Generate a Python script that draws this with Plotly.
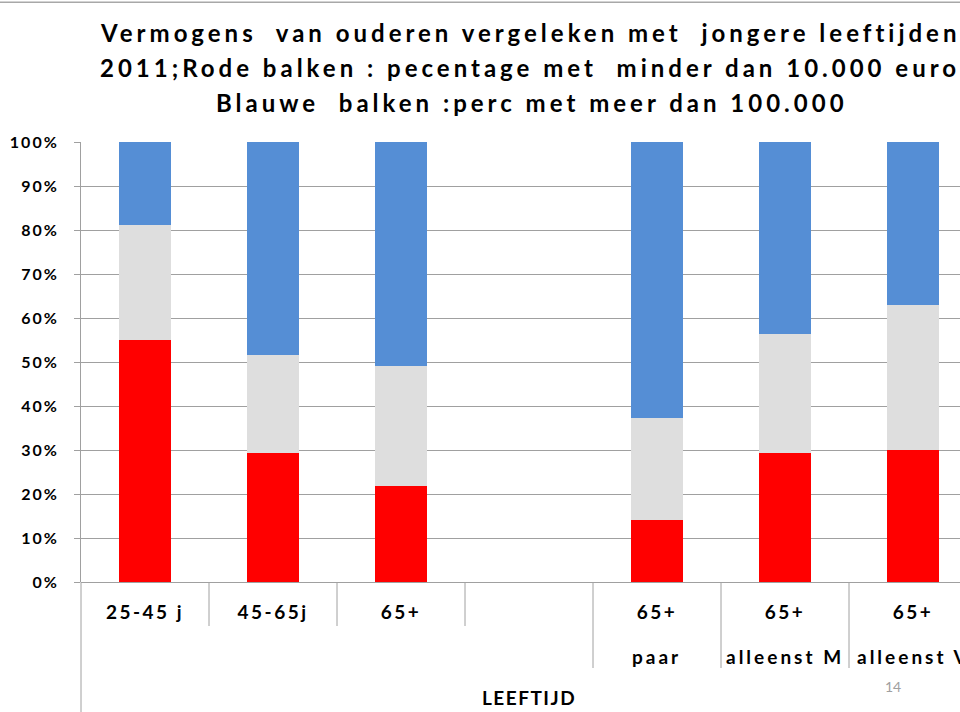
import plotly.graph_objects as go

# ---- data ----
categories = ["25-45 j", "45-65j", "65+", "", "65+", "65+", "65+"]
subcategories = ["", "", "", "", "paar", "alleenst M", "alleenst V"]
red_pct = [55.0, 29.3, 21.9, None, 14.1, 29.4, 29.9]      # < 10.000 euro
grey_pct = [26.1, 22.2, 27.2, None, 23.2, 27.0, 33.1]     # middle
blue_pct = [18.9, 48.5, 50.9, None, 62.7, 43.6, 37.0]     # > 100.000
y_ticks = [0, 10, 20, 30, 40, 50, 60, 70, 80, 90, 100]
title_lines = [
    "Vermogens  van ouderen vergeleken met  jongere leeftijden",
    "2011;Rode balken : pecentage met  minder dan 10.000 euro",
    "Blauwe  balken :perc met meer dan 100.000",
]
axis_group_label = "LEEFTIJD"
page_number = "14"

FONT = "Lato"
GRID = "#a0a0a0"
x_pos = list(range(len(categories)))

fig = go.Figure()
for vals, col in [(red_pct, "#FF0000"), (grey_pct, "#DEDEDE"), (blue_pct, "#558ED5")]:
    fig.add_trace(go.Bar(x=x_pos, y=vals, marker=dict(color=col, line=dict(width=0)),
                         width=0.41, showlegend=False, hoverinfo="skip"))

# plot geometry (pixels)
W, H = 960, 712
L, T, B = 81, 142, 130
plot_w = W - L
plot_h = H - T - B
cat_px = 128.0

fig.update_layout(
    width=W, height=H, barmode="stack",
    margin=dict(l=L, r=0, t=T, b=B, pad=0),
    paper_bgcolor="white", plot_bgcolor="white",
    font=dict(family=FONT, color="black"),
    xaxis=dict(range=[-0.5, -0.5 + plot_w / cat_px], tickmode="array", tickvals=x_pos,
               ticktext=categories, showgrid=False, zeroline=False, showline=False,
               ticks="", ticklabelstandoff=17, automargin=False,
               tickfont=dict(family=FONT, size=19, weight="bold", color="black")),
    yaxis=dict(range=[0, 100], tickmode="array", tickvals=y_ticks,
               ticktext=[f"{v}%" for v in y_ticks], showgrid=True, gridcolor=GRID, gridwidth=1,
               zeroline=True, zerolinecolor=GRID, zerolinewidth=1,
               showline=True, linecolor=GRID, linewidth=1, automargin=False,
               ticks="outside", ticklen=6, tickcolor=GRID, ticklabelstandoff=12,
               tickfont=dict(family=FONT, size=16, weight="bold", color="black")),
)

def py(px):
    return (H - B - px) / plot_h

def pxx(px):
    return (px - L) / plot_w

annotations = []
# title lines
title_starts = [98, 98, 214]
title_ys = [32, 68, 102]
for txt, x0, y0 in zip(title_lines, title_starts, title_ys):
    annotations.append(dict(text=txt, xref="paper", yref="paper", x=pxx(x0), y=py(y0),
                            xanchor="left", yanchor="middle", align="left", showarrow=False,
                            font=dict(family=FONT, size=24, weight="bold", color="black")))
n_title = len(annotations)
# second-row category labels
for xi, s in zip(x_pos, subcategories):
    if s:
        annotations.append(dict(text=s, xref="x", yref="paper", x=xi, y=py(656),
                                xanchor="center", yanchor="middle", showarrow=False,
                                font=dict(family=FONT, size=19, weight="bold", color="black")))
n_sub_end = len(annotations)
annotations.append(dict(text=axis_group_label, xref="x", yref="paper",
                        x=(x_pos[0] + x_pos[-1]) / 2, y=py(697), xanchor="center",
                        yanchor="middle", showarrow=False,
                        font=dict(family=FONT, size=19, weight="bold", color="black")))
idx_group = len(annotations) - 1
annotations.append(dict(text=page_number, xref="paper", yref="paper", x=pxx(893), y=py(686),
                        xanchor="center", yanchor="middle", showarrow=False,
                        font=dict(family=FONT, size=14, color="#a0a0a0")))
fig.update_layout(annotations=annotations)

shapes = []
# y-axis line extension below the plot
shapes.append(dict(type="line", xref="paper", yref="paper", x0=0, x1=0, y0=0, y1=py(H),
                   line=dict(color=GRID, width=1)))
# category divider lines
for xi in x_pos[:-1]:
    two_line = bool(subcategories[xi + 1]) or bool(subcategories[xi])
    bottom = 668 if two_line else 626
    shapes.append(dict(type="line", xref="x", yref="paper", x0=xi + 0.5, x1=xi + 0.5,
                       y0=0, y1=py(bottom), line=dict(color=GRID, width=1)))
# slide frame line at the top
shapes.append(dict(type="rect", xref="paper", yref="paper", x0=pxx(0), x1=pxx(W),
                   y0=py(3), y1=py(1.5), fillcolor="#a8a8a8", line=dict(width=0)))
fig.update_layout(shapes=shapes)

css = ["html,body{margin:0;padding:0;overflow:hidden}"]
for i in range(n_title):
    css.append(f'g.annotation[data-index="{i}"] text{{letter-spacing:4px}}')
for i in range(n_title, n_sub_end):
    css.append(f'g.annotation[data-index="{i}"] text{{letter-spacing:3px}}')
css.append(f'g.annotation[data-index="{idx_group}"] text{{letter-spacing:1.5px}}')
css.append('.xtick text{letter-spacing:2.5px}')
css.append('.ytick text{letter-spacing:2px}')
post = ("var s=document.createElement('style');s.innerHTML='" + " ".join(css) +
        "';document.head.appendChild(s);")

fig.write_html("out.html", post_script=post, config={"displayModeBar": False})
